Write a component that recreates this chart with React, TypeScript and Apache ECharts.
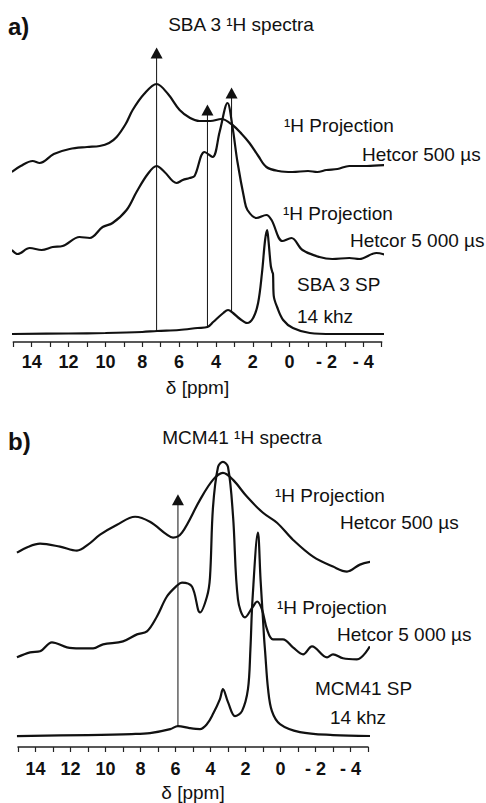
import React, { useEffect, useRef } from "react";
import * as echarts from "echarts";

// ---------- Data (ppm, relative intensity) ----------
// Panel a) SBA 3
const sbaHetcor500: [number, number][] = [
  [15.08, 170], [14.6, 176], [13.95, 181], [13.57, 179], [12.8, 188], [11.94, 193],
  [11.0, 195], [10.31, 196], [9.8, 199], [9.39, 205], [8.9, 218], [8.52, 232],
  [7.9, 248], [7.22, 258], [6.6, 248], [5.97, 232], [5.4, 224], [4.89, 221],
  [4.3, 221], [3.7, 223], [3.1, 217], [2.6, 208], [2.18, 199], [1.7, 186],
  [1.26, 175], [0.6, 171], [-0.15, 170], [-1.0, 171], [-1.5, 170], [-2.0, 172],
  [-2.6, 173], [-3.24, 176], [-4.2, 176], [-5.25, 177],
];
const sbaHetcor5000: [number, number][] = [
  [15.08, 92], [14.76, 88], [14.11, 94], [13.46, 92], [12.86, 95], [12.32, 96],
  [11.4, 105], [10.85, 104], [10.15, 115], [9.61, 119], [8.85, 132], [8.31, 150],
  [7.7, 168], [7.22, 176], [6.79, 170], [6.14, 159], [5.8, 162], [5.43, 164],
  [5.16, 166], [4.62, 190], [4.18, 185], [3.8, 210], [3.37, 239], [3.1, 215],
  [2.83, 180], [2.45, 142], [2.29, 132], [1.8, 124], [1.26, 127], [0.98, 122],
  [0.39, 101], [-0.1, 104], [-0.7, 92], [-1.62, 85], [-2.32, 83], [-3.24, 84],
  [-3.79, 83], [-4.71, 89], [-5.25, 87],
];
const sbaSP: [number, number][] = [
  [15.1, 8], [12, 8.5], [10, 9], [8, 10], [7.2, 11], [6, 12], [5, 14], [4.46, 15],
  [4.15, 20], [3.6, 29], [3.34, 32], [3.07, 29], [2.69, 23], [2.31, 19], [1.98, 24],
  [1.71, 39], [1.5, 69], [1.33, 102], [1.22, 112], [1.14, 100], [1.02, 76],
  [0.94, 70], [0.9, 68], [0.86, 46], [0.68, 35], [0.35, 22], [-0.18, 14],
  [-1.1, 9], [-2.36, 8], [-5.3, 8],
];
const sbaArrows: [number, number, number][] = [
  // ppm, bottom value, arrow-head centre value
  [7.22, 11, 289],
  [4.46, 15, 232],
  [3.15, 30, 249],
];

// Panel b) MCM41
const mcmHetcor500: [number, number][] = [
  [15.06, 195], [14.4, 201], [13.74, 204], [12.6, 201], [11.63, 197], [11.0, 203],
  [10.31, 213], [9.34, 223], [8.31, 231], [7.46, 226], [6.49, 213], [6.14, 210],
  [5.63, 215], [4.6, 248], [3.86, 268], [3.29, 275], [2.71, 268], [1.91, 251],
  [1.0, 235], [0.2, 225], [-0.71, 208], [-1.86, 191], [-3.0, 181], [-3.8, 176],
  [-4.54, 183], [-5.23, 186],
];
const mcmHetcor5000: [number, number][] = [
  [15.06, 90], [14.31, 95], [13.74, 96], [13.06, 105], [12.2, 100], [11.46, 99],
  [10.71, 99], [10.14, 103], [9.0, 106], [8.2, 113], [7.63, 116], [7.06, 131],
  [6.49, 151], [5.91, 162], [5.63, 165], [5.06, 161], [4.6, 135], [4.2, 151],
  [4.03, 170], [3.86, 240], [3.57, 281], [3.29, 286], [3.0, 281], [2.71, 231],
  [2.43, 148], [2.03, 130], [1.57, 141], [1.34, 146], [1.06, 138], [0.77, 118],
  [0.43, 108], [-0.14, 108], [-0.71, 100], [-1.29, 93], [-1.8, 101], [-2.66, 90],
  [-3.0, 93], [-3.57, 89], [-4.37, 88], [-5.11, 101],
];
const mcmSP: [number, number][] = [
  [15.06, 11], [11, 12], [8.5, 13], [7.46, 14], [6.3, 18], [5.86, 21], [5.2, 19],
  [4.6, 18], [4.2, 23], [3.86, 33], [3.46, 48], [3.29, 58], [3.0, 45], [2.6, 31],
  [2.2, 36], [1.86, 58], [1.72, 98], [1.6, 148], [1.29, 215], [1.14, 168],
  [1.0, 128], [0.94, 110], [0.88, 96], [0.71, 58], [0.49, 36], [0.03, 23],
  [-1.11, 15], [-3, 12], [-5.2, 11],
];
const mcmArrows: [number, number, number][] = [[5.86, 21, 248]];

// ---------- Texts ----------
const panelLetters = ["a)", "b)"];
const panelTitles = ["SBA 3 ¹H spectra", "MCM41 ¹H spectra"];
const spectrumLabelsA = ["¹H Projection", "Hetcor 500 µs", "¹H Projection", "Hetcor 5 000 µs", "SBA 3 SP", "14 khz"];
const spectrumLabelsB = ["¹H Projection", "Hetcor 500 µs", "¹H Projection", "Hetcor 5 000 µs", "MCM41 SP", "14 khz"];
const axisName = "δ [ppm]";

const FONT = "'Liberation Sans', Arial, Helvetica, sans-serif";
const INK = "#111";

function tickLabel(v: number): string {
  if (Math.round(v) % 2 !== 0) return "";
  if (v < 0) return "- " + -v;
  return String(v);
}

export default function App() {
  const ref = useRef<HTMLDivElement>(null);
  useEffect(() => {
    if (!ref.current) return;
    const chart = echarts.init(ref.current, undefined, { renderer: "svg" });

    const makeX = (gridIndex: number, labelMargin: number) => ({
      type: "value",
      gridIndex,
      min: -5,
      max: 15,
      interval: 1,
      inverse: true,
      axisLine: { show: true, lineStyle: { color: "#222", width: 1.5 } },
      axisTick: { show: true, length: 5, lineStyle: { color: "#222", width: 1.2 } },
      splitLine: { show: false },
      axisLabel: {
        formatter: tickLabel,
        fontSize: 18,
        fontWeight: "bold",
        fontFamily: FONT,
        color: INK,
        margin: labelMargin,
      },
      name: axisName,
      nameLocation: "middle",
      nameGap: 36,
      nameTextStyle: { fontSize: 19, fontFamily: FONT, color: INK },
    });
    const makeY = (gridIndex: number) => ({
      type: "value",
      gridIndex,
      min: 0,
      max: 300,
      show: false,
      splitLine: { show: false },
    });
    const curve = (data: [number, number][], idx: number) => ({
      type: "line",
      xAxisIndex: idx,
      yAxisIndex: idx,
      data,
      symbol: "none",
      smooth: 0.35,
      lineStyle: { color: INK, width: 2.2 },
      silent: true,
    });
    const arrow = (a: [number, number, number], idx: number) => ({
      type: "line",
      xAxisIndex: idx,
      yAxisIndex: idx,
      symbol: "none",
      data: [
        { value: [a[0], a[1]], symbol: "none" },
        { value: [a[0], a[2]], symbol: "triangle", symbolSize: [12, 11] },
      ],
      showSymbol: true,
      lineStyle: { color: INK, width: 1 },
      itemStyle: { color: INK },
      silent: true,
    });

    const txt = (text: string, x: number, y: number, size: number, bold = false, align = "left") => ({
      type: "text",
      x,
      y,
      silent: true,
      style: {
        text,
        fill: INK,
        fontSize: size,
        fontFamily: FONT,
        fontWeight: bold ? "bold" : "normal",
        align,
        verticalAlign: "middle",
      },
    });

    const posA: [number, number][] = [[284, 125], [362, 154], [283, 213], [350, 240], [297, 284], [297, 316]];
    const posB: [number, number][] = [[275, 495], [340, 522], [277, 607], [337, 634], [315, 688], [330, 717]];

    const graphic = [
      txt(panelLetters[0], 8, 26, 24, true),
      txt(panelTitles[0], 241, 24, 19, false, "center"),
      txt(panelLetters[1], 8, 441, 24, true),
      txt(panelTitles[1], 242, 437, 19, false, "center"),
      ...spectrumLabelsA.map((t, i) => txt(t, posA[i][0], posA[i][1], 19)),
      ...spectrumLabelsB.map((t, i) => txt(t, posB[i][0], posB[i][1], 19)),
    ];

    chart.setOption({
      animation: false,
      backgroundColor: "#fff",
      grid: [
        { left: 13.3, top: 42, width: 368.4, height: 300 },
        { left: 18, top: 448, width: 350, height: 300 },
      ],
      xAxis: [makeX(0, 11), makeX(1, 13)],
      yAxis: [makeY(0), makeY(1)],
      series: [
        curve(sbaHetcor500, 0),
        curve(sbaHetcor5000, 0),
        curve(sbaSP, 0),
        ...sbaArrows.map((a) => arrow(a, 0)),
        curve(mcmHetcor500, 1),
        curve(mcmHetcor5000, 1),
        curve(mcmSP, 1),
        ...mcmArrows.map((a) => arrow(a, 1)),
      ],
      graphic,
    });
    return () => chart.dispose();
  }, []);
  return (
    <div
      ref={ref}
      style={{ position: "absolute", left: 0, top: 0, width: 486, height: 803, background: "#fff" }}
    />
  );
}
